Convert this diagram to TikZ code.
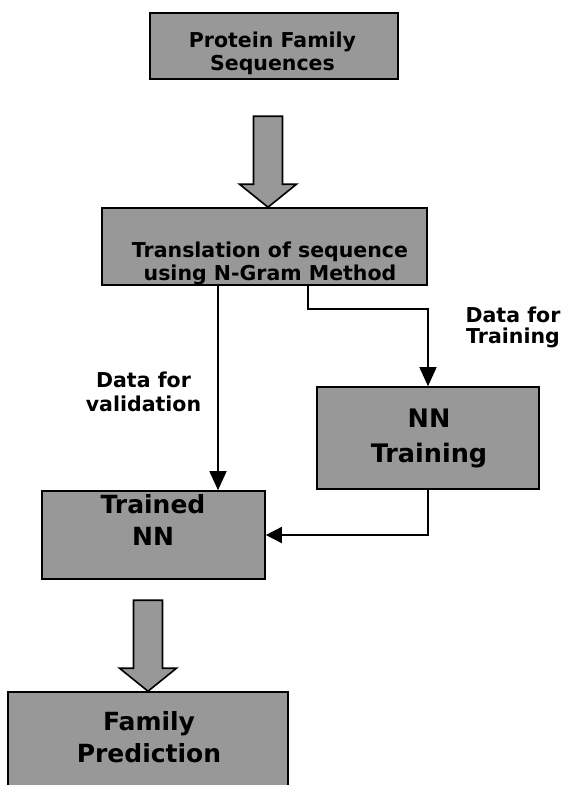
\documentclass[tikz,border=0pt]{standalone}
\usepackage{fontspec}
\setmainfont{DejaVu Sans}
\usetikzlibrary{arrows.meta,calc}
\definecolor{boxfill}{RGB}{152,152,152}
\begin{document}
\begin{tikzpicture}[x=1pt,y=-1pt,
  box/.style={draw=black, line width=1.6pt, fill=boxfill, rectangle, inner sep=0pt},
  boxtext/.style={align=center, inner sep=0pt, anchor=base},
  small/.style={font=\bfseries\fontsize{20.5}{22.5}\selectfont},
  large/.style={font=\bfseries\fontsize{25}{32}\selectfont},
  flow/.style={draw=black, line width=1.5pt},
  conn/.style={flow, -{Triangle[width=17pt,length=19pt]}},
  connh/.style={flow, -{Triangle[width=16pt,length=16pt]}},
  lbl/.style={align=center, inner sep=0pt, anchor=base, font=\bfseries\fontsize{20.5}{23.5}\selectfont},
  blockarrow/.pic={\path[draw=black, line width=1.6pt, fill=boxfill, line join=miter]
     (-14.5,0) -- (14.5,0) -- (14.5,68) -- (28.5,68) -- (0,91) -- (-28.5,68) -- (-14.5,68) -- cycle;}
]
\useasboundingbox (0,0) rectangle (564,785);

% boxes
\node[box, minimum width=248pt, minimum height=66pt]  (seq)     at (274,46)    {};
\node[box, minimum width=325pt, minimum height=77pt]  (ngram)   at (264.5,246.5) {};
\node[box, minimum width=222pt, minimum height=102pt] (nntrain) at (428,438)   {};
\node[box, minimum width=223pt, minimum height=88pt]  (trained) at (153.5,535) {};
\node[box, minimum width=280pt, minimum height=108pt] (family)  at (148,746)   {};

% box captions (anchored on the baseline of their last line)
\node[boxtext, small] (seqtext)     at (272.5,70) {Protein Family\\Sequences};
\node[boxtext, small] (ngramtext)   at (270,280)  {Translation of sequence\\using N-Gram Method};
\node[boxtext, font=\bfseries\fontsize{25.5}{35}\selectfont] (nntraintext) at (429,462) {NN\\Training};
\node[boxtext, large] (trainedtext) at (153,545)  {Trained\\NN};
\node[boxtext, large] (familytext)  at (149,762)  {Family\\Prediction};

% edge labels
\node[lbl] (valid) at (143.5,411) {Data for\\validation};
\node[lbl, font=\bfseries\fontsize{20.5}{21.5}\selectfont] (train) at (513,343.5) {Data for\\Training};

% wide block arrows
\pic at ($(ngram.north)+(3.5,-91)$) {blockarrow};
\pic at ($(family.north)+(0,-91)$) {blockarrow};

% data flow connectors
\coordinate (xl) at (218,0);
\coordinate (xr) at (308,0);
\draw[conn] (ngram.south -| xl) -- (trained.north -| xl);
\draw[conn] (ngram.south -| xr) -- ++(0,23) -| (nntrain.north);
\draw[connh] (nntrain.south) |- (trained.east);
\end{tikzpicture}
\end{document}
